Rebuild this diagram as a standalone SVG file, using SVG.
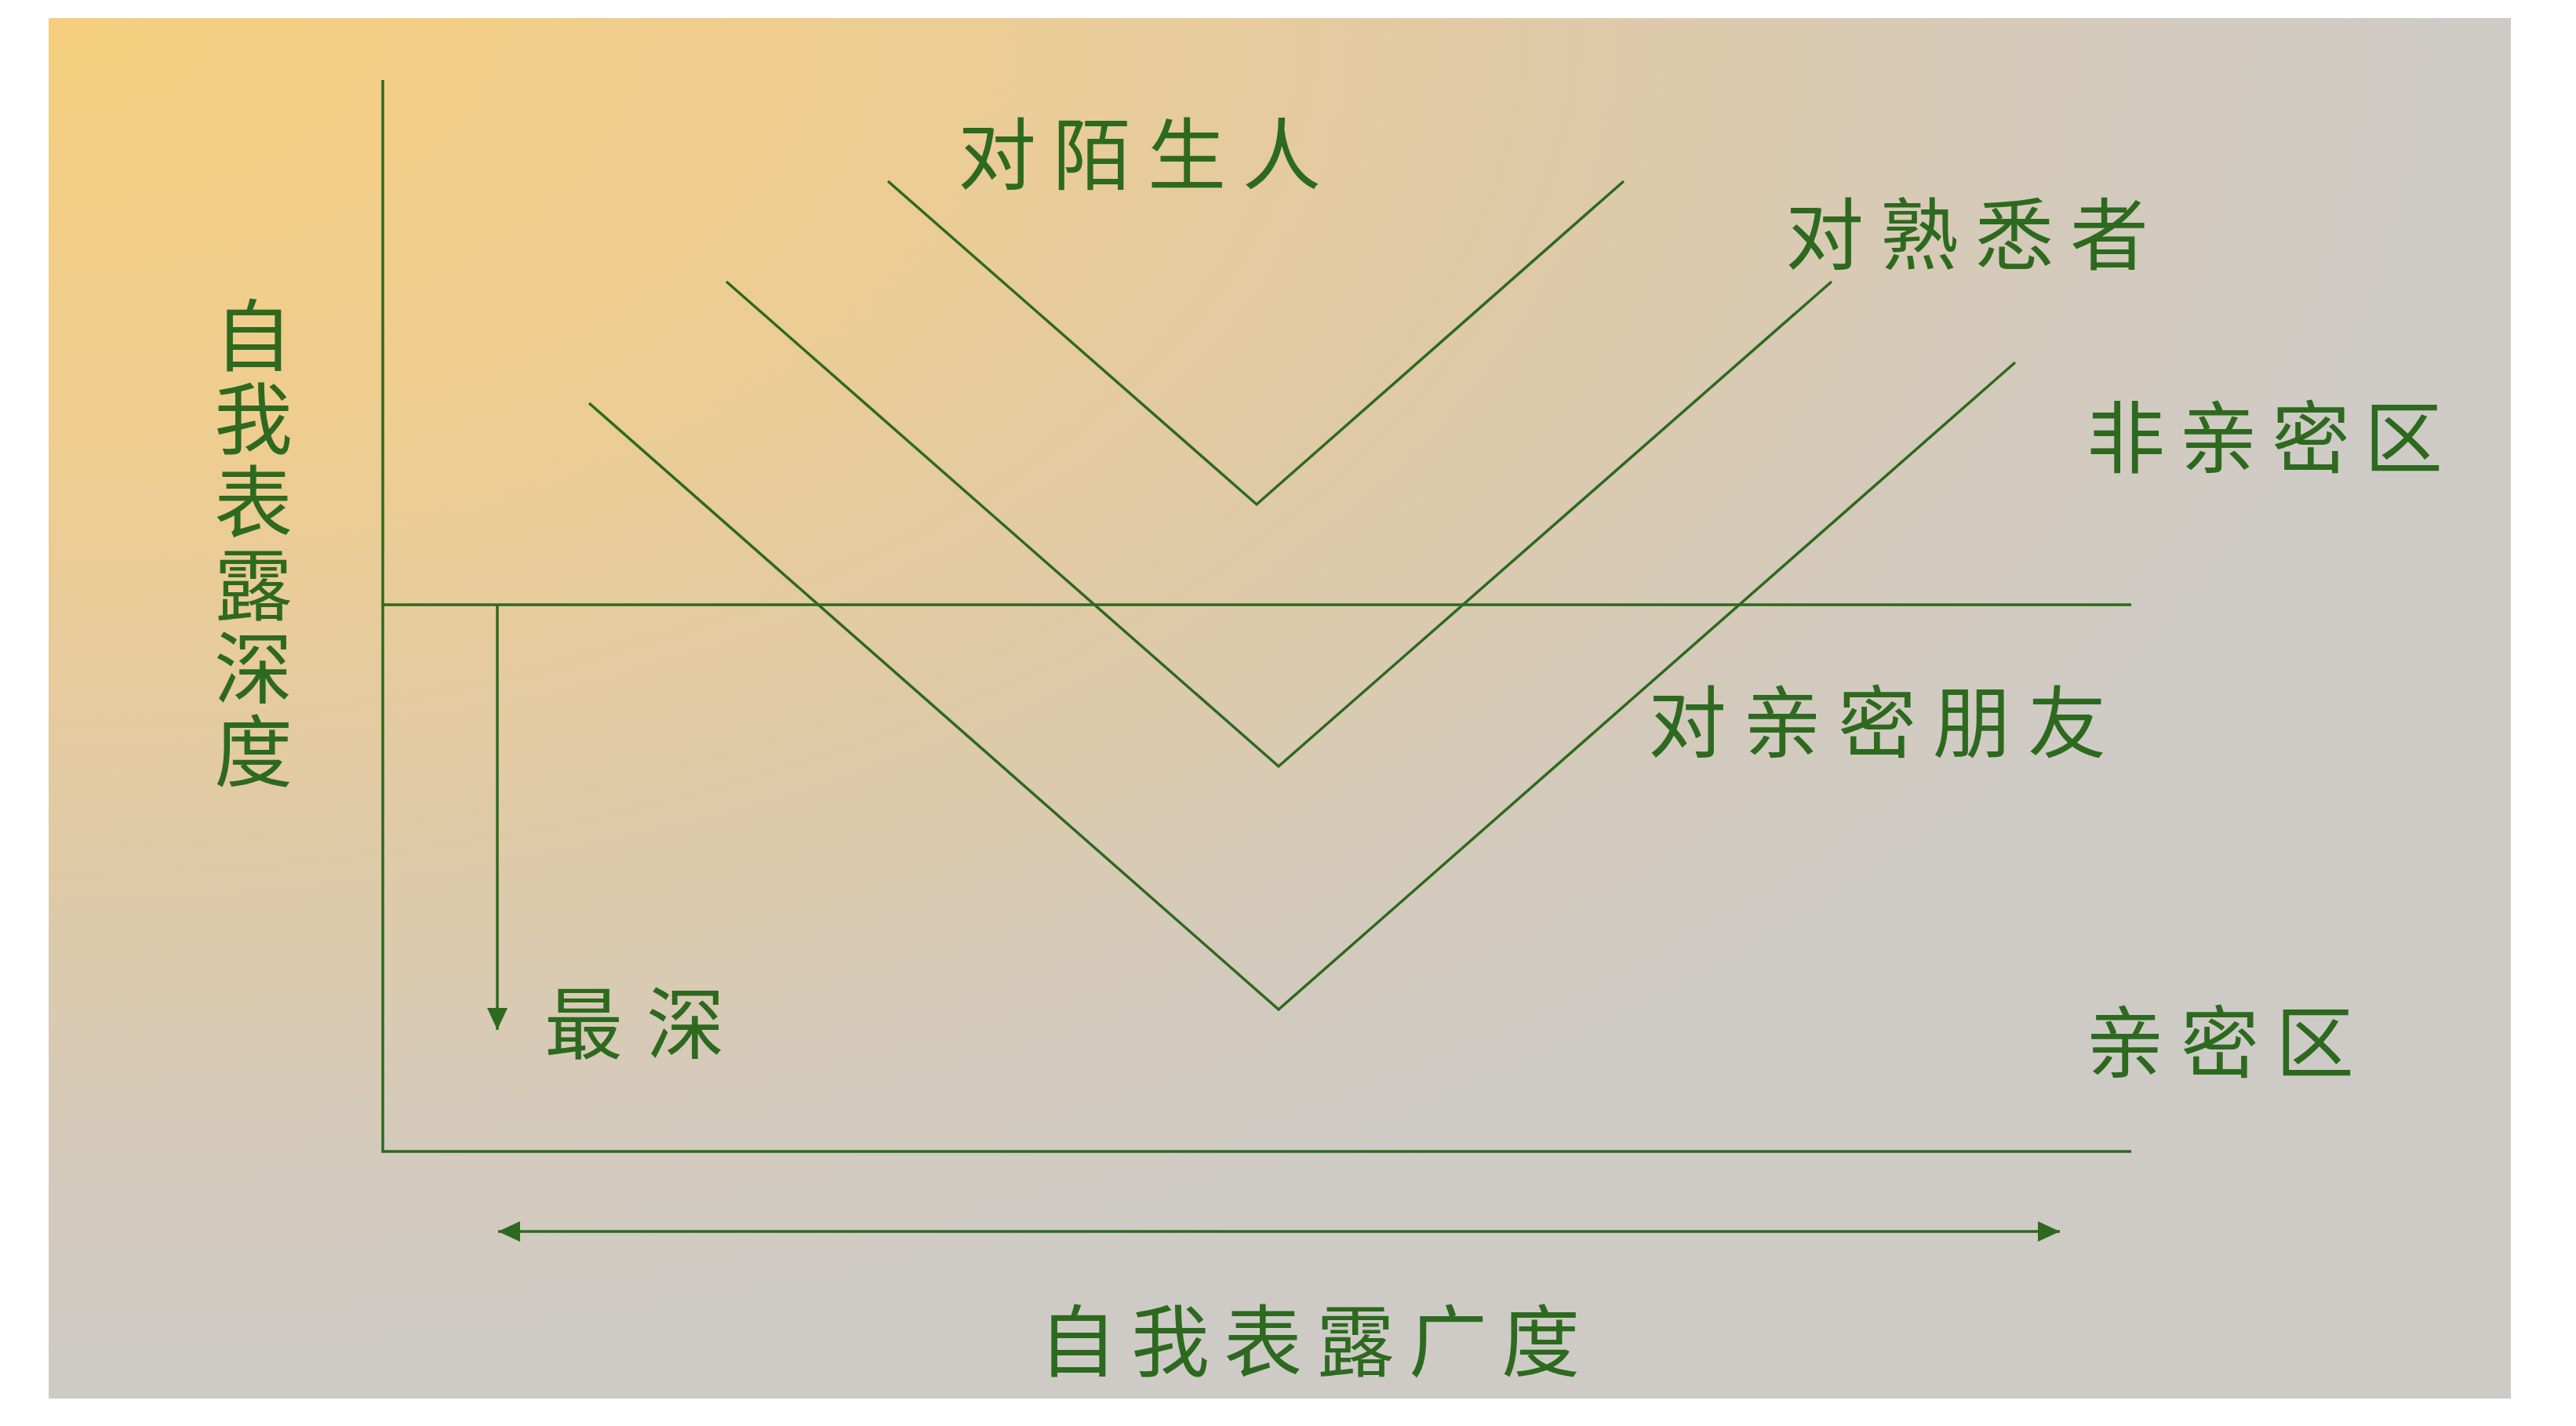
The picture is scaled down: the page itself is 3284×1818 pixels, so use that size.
<svg xmlns="http://www.w3.org/2000/svg" width="3284" height="1818" viewBox="0 0 3284 1818">
<style>
.ln{stroke:#2d6a1f;stroke-width:3.5;fill:none;stroke-linejoin:miter}
.lb{fill:#2d6a1f;font-family:"Noto Sans CJK SC","Noto Sans CJK TC",sans-serif;font-size:100px}
</style>
<defs>
<radialGradient id="bg" gradientUnits="objectBoundingBox" cx="0" cy="0" r="1" fx="0" fy="0">
<stop offset="0" stop-color="#f5cf7e"/>
<stop offset="0.3" stop-color="#efcd8f"/>
<stop offset="0.6" stop-color="#e0caa6"/>
<stop offset="0.85" stop-color="#d3cabd"/>
<stop offset="1" stop-color="#cecbc7"/>
</radialGradient>
<marker id="ah" markerUnits="userSpaceOnUse" viewBox="0 0 28 26" refX="28" refY="13" markerWidth="28" markerHeight="26" orient="auto-start-reverse">
<path d="M0,0 L28,13 L0,26 Z" fill="#2d6a1f"/>
</marker>
</defs>
<rect x="0" y="0" width="3284" height="1818" fill="#ffffff"/>
<rect id="background" x="62" y="23" width="3139" height="1760" fill="url(#bg)"/>
<g id="connectors">
<polyline class="ln" points="488,102 488,1468 2717,1468"/>
<line class="ln" x1="488" y1="771" x2="2717" y2="771"/>
<line class="ln" x1="634" y1="771" x2="634" y2="1313" marker-end="url(#ah)"/>
<line class="ln" x1="635" y1="1570" x2="2626" y2="1570" marker-start="url(#ah)" marker-end="url(#ah)"/>
<polyline id="v-stranger" class="ln" points="1132,231 1602,643 2070,231"/>
<polyline id="v-familiar" class="ln" points="926,359 1630,977 2335,359"/>
<polyline id="v-intimate" class="ln" points="751,514 1630,1287 2569,462"/>
</g>
<g id="label-stranger"><text class="lb" x="1221" y="234" letter-spacing="21">对陌生人</text></g>
<g id="label-familiar"><text class="lb" x="2276" y="336" letter-spacing="21">对熟悉者</text></g>
<g id="label-nonintimate"><text class="lb" x="2660" y="595" letter-spacing="18">非亲密区</text></g>
<g id="label-friend"><text class="lb" x="2101" y="958" letter-spacing="21">对亲密朋友</text></g>
<g id="label-deepest"><text class="lb" x="694" y="1342" letter-spacing="30">最深</text></g>
<g id="label-intimate"><text class="lb" x="2659" y="1366" letter-spacing="21">亲密区</text></g>
<g id="label-breadth"><text class="lb" x="1324" y="1747" letter-spacing="18">自我表露广度</text></g>
<g id="label-depth"><text class="lb" x="323" y="377" writing-mode="vertical-rl" letter-spacing="6">自我表露深度</text></g>
</svg>
